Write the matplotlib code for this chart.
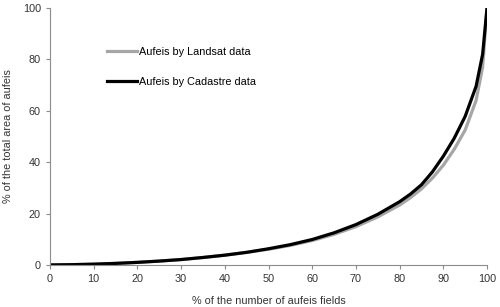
import matplotlib.pyplot as plt

plt.rcParams['font.family'] = ['Liberation Sans', 'DejaVu Sans']

# cumulative curves
x_pct = [0, 5, 10, 15, 20, 25, 30, 35, 40, 45, 50, 55, 60, 65, 70, 75, 80, 82.5, 85,
         87.5, 90, 92.5, 95, 97.5, 99, 100]
landsat = [0, 0.1, 0.3, 0.6, 1.0, 1.5, 2.1, 2.9, 3.8, 4.9, 6.1, 7.6, 9.5, 11.9,
           14.9, 18.7, 23.3, 26.2, 29.6, 33.8, 38.8, 45.0, 52.5, 64.0, 77.0, 100]
cadastre = [0, 0.1, 0.3, 0.6, 1.0, 1.5, 2.1, 2.9, 3.8, 4.9, 6.3, 7.9, 9.9, 12.5,
            15.7, 19.7, 24.6, 27.6, 31.2, 36.2, 42.3, 49.3, 57.8, 69.5, 82.0, 100]

fig = plt.figure(figsize=(5, 3.07), dpi=100)
ax = fig.add_axes([0.1, 0.137, 0.874, 0.837])

ax.plot(x_pct, landsat, color='#a6a6a6', lw=2.3, label='Aufeis by Landsat data')
ax.plot(x_pct, cadastre, color='black', lw=2.3, label='Aufeis by Cadastre data')

ax.set_xlim(0, 100)
ax.set_ylim(0, 100)
ax.set_xticks(range(0, 101, 10))
ax.set_yticks(range(0, 101, 20))
for s in ['top', 'right']:
    ax.spines[s].set_visible(False)
for s in ['left', 'bottom']:
    ax.spines[s].set_color('#8c8c8c')
    ax.spines[s].set_linewidth(0.8)
ax.tick_params(colors='#8c8c8c', labelcolor='#333333', labelsize=7.8, length=3, width=0.8)

ax.set_xlabel('% of the number of aufeis fields', fontsize=7.8, color='#333333', labelpad=9)
ax.set_ylabel('% of the total area of aufeis', fontsize=7.8, color='#333333', labelpad=7)

ax.legend(loc='upper left', bbox_to_anchor=(0.12, 0.865), frameon=False, fontsize=7.8,
          handlelength=2.8, handletextpad=0.2, labelspacing=1.85, borderaxespad=0)

fig.savefig('out.png', dpi=100)
